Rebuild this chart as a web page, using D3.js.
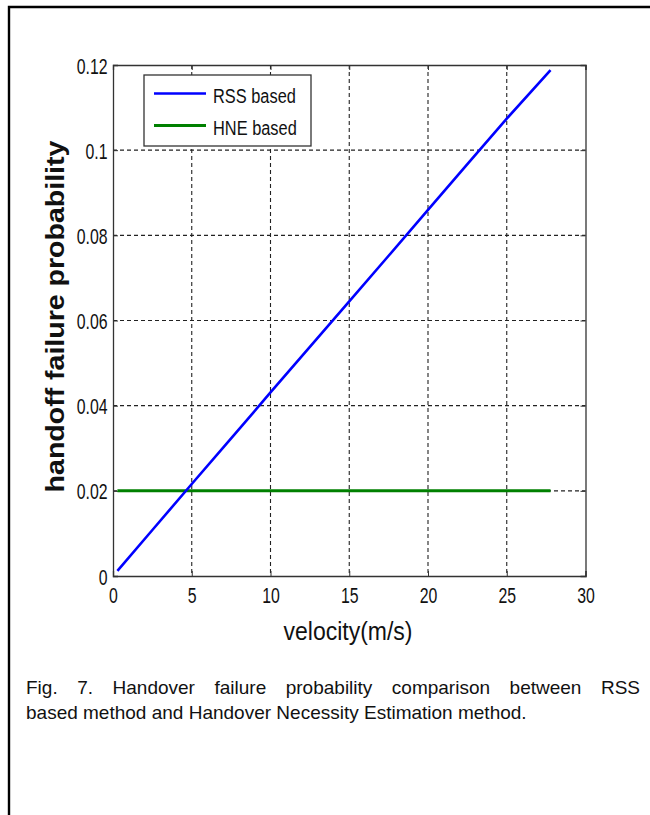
<!DOCTYPE html>
<html>
<head>
<meta charset="utf-8">
<script src="https://cdn.jsdelivr.net/npm/d3@7"></script>
<style>
  html, body { margin: 0; padding: 0; background: #fff; }
  svg { display: block; }
  text { font-family: "Liberation Sans", Arial, Helvetica, sans-serif; fill: #111; }
</style>
</head>
<body>
<svg id="chart" width="650" height="815"></svg>
<script>
// ---- data ----
const velocity = [0.28, 2.5, 5, 7.5, 10, 12.5, 15, 17.5, 20, 22.5, 25, 27.78];
const rssBased = [0.0012, 0.0108, 0.0216, 0.0323, 0.0431, 0.0538, 0.0645, 0.0752, 0.0860, 0.0967, 0.1074, 0.1188];
const hneBased = [0.02, 0.02, 0.02, 0.02, 0.02, 0.02, 0.02, 0.02, 0.02, 0.02, 0.02, 0.02];
const seriesNames = ["RSS based", "HNE based"];
const xTicks = [0, 5, 10, 15, 20, 25, 30];
const yTicks = [0, 0.02, 0.04, 0.06, 0.08, 0.1, 0.12];
const yTickLabels = ["0", "0.02", "0.04", "0.06", "0.08", "0.1", "0.12"];
const xLabel = "velocity(m/s)";
const yLabel = "handoff failure probability";
const captionLine1 = "Fig. 7. Handover failure probability comparison between RSS";
const captionLine2 = "based method and Handover Necessity Estimation method.";

// ---- layout ----
const svg = d3.select("#chart");
const L = 113, R = 585.5, T = 65, B = 576;
const x = d3.scaleLinear().domain([0, 30]).range([L, R]);
const y = d3.scaleLinear().domain([0, 0.12]).range([B, T]);
const colors = ["#0000ff", "#008000"];
const tickScale = 0.72;
const tickFont = "22px";

// outer frame (top & left)
svg.append("path").attr("d", "M9,815 L9,7 L650,7")
  .attr("fill", "none").attr("stroke", "#000").attr("stroke-width", 2.4);

// grid
const grid = svg.append("g");
grid.selectAll(".gx").data(xTicks.filter(d => d > 0 && d < 30)).join("line")
  .attr("x1", d => x(d)).attr("x2", d => x(d)).attr("y1", T).attr("y2", B)
  .attr("stroke", "#222").attr("stroke-width", 1.1).attr("stroke-dasharray", "4,3");
grid.selectAll(".gy").data(yTicks.filter(d => d > 0 && d < 0.12)).join("line")
  .attr("x1", L).attr("x2", R).attr("y1", d => y(d)).attr("y2", d => y(d))
  .attr("stroke", "#222").attr("stroke-width", 1.1).attr("stroke-dasharray", "4,3");

// axes (inner ticks on all four sides)
const axB = svg.append("g").attr("transform", `translate(0,${B})`)
  .call(d3.axisBottom(x).tickValues(xTicks).tickSize(-5).tickFormat(d3.format("d")));
const axT = svg.append("g").attr("transform", `translate(0,${T})`)
  .call(d3.axisTop(x).tickValues(xTicks).tickSize(-5).tickFormat(""));
const axLft = svg.append("g").attr("transform", `translate(${L},0)`)
  .call(d3.axisLeft(y).tickValues(yTicks).tickSize(-5).tickFormat((d, i) => yTickLabels[i]));
const axRgt = svg.append("g").attr("transform", `translate(${R},0)`)
  .call(d3.axisRight(y).tickValues(yTicks).tickSize(-5).tickFormat(""));
[axB, axT, axLft, axRgt].forEach(g => {
  g.select(".domain").attr("stroke", "#333").attr("stroke-width", 1.3);
  g.selectAll(".tick line").attr("stroke", "#333").attr("stroke-width", 1);
});
axB.selectAll(".tick text")
  .attr("y", 27.5).attr("dy", 0)
  .attr("transform", `scale(${tickScale},1)`)
  .style("font-size", tickFont).style("font-family", "'Liberation Sans', Arial, sans-serif").attr("fill", "#111");
axLft.selectAll(".tick text")
  .attr("x", -5.5 / tickScale).attr("dy", 0).attr("y", 8)
  .attr("transform", `scale(${tickScale},1)`)
  .style("font-size", tickFont).style("font-family", "'Liberation Sans', Arial, sans-serif").attr("fill", "#111");

// series lines
const line = d3.line().x((d, i) => x(velocity[i])).y(d => y(d));
svg.append("path").datum(hneBased).attr("d", line)
  .attr("fill", "none").attr("stroke", colors[1]).attr("stroke-width", 3);
svg.append("path").datum(rssBased).attr("d", line)
  .attr("fill", "none").attr("stroke", colors[0]).attr("stroke-width", 2.6);

// legend
const lg = svg.append("g");
lg.append("rect").attr("x", 144).attr("y", 75).attr("width", 167).attr("height", 71)
  .attr("fill", "#fff").attr("stroke", "#333").attr("stroke-width", 1.3);
seriesNames.forEach((name, i) => {
  const yy = 93.5 + i * 32;
  lg.append("line").attr("x1", 154).attr("x2", 206).attr("y1", yy).attr("y2", yy)
    .attr("stroke", colors[i]).attr("stroke-width", i === 0 ? 2.6 : 3);
  lg.append("text").attr("transform", `translate(213,${yy + 9.5}) scale(0.78,1)`)
    .style("font-size", "21px").text(name);
});

// axis labels
svg.append("text").attr("transform", `translate(348,640) scale(0.92,1)`)
  .attr("text-anchor", "middle").style("font-size", "25px").text(xLabel);
const yl = svg.append("text").attr("transform", `translate(64,${(T + B) / 2 - 2}) rotate(-90)`)
  .attr("text-anchor", "middle").style("font-size", "26px").style("font-weight", "bold").text(yLabel);
const ylw = yl.node().getComputedTextLength();
yl.attr("transform", `translate(64,${(T + B) / 2 - 4}) rotate(-90) scale(${352 / ylw},1)`);

// caption (justified first line)
const capSize = "19px";
const words = captionLine1.split(" ");
const cg = svg.append("g");
const wEls = words.map(w => cg.append("text").attr("y", 694).style("font-size", capSize).text(w));
const widths = wEls.map(e => e.node().getComputedTextLength());
const total = widths.reduce((a, b) => a + b, 0);
const gap = (640 - 26 - total) / (words.length - 1);
let cx = 26;
wEls.forEach((e, i) => { e.attr("x", cx); cx += widths[i] + gap; });
svg.append("text").attr("x", 26).attr("y", 719).style("font-size", capSize).text(captionLine2);
</script>
</body>
</html>
